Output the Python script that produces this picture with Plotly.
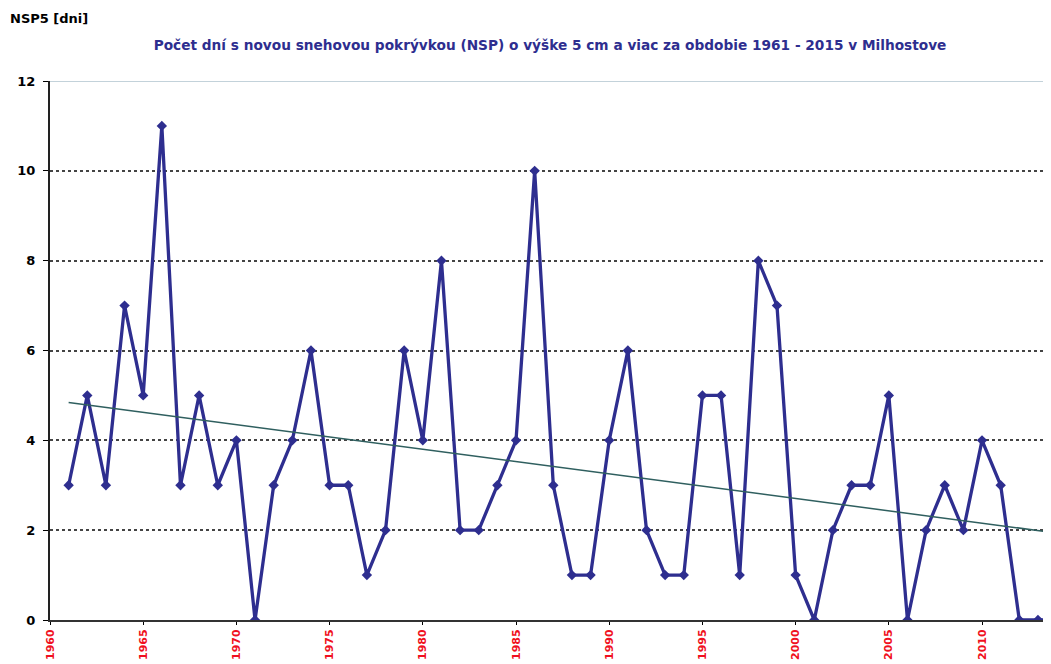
import numpy as np
import plotly.graph_objects as go

years = list(range(1961, 2015))
nsp5 = [3, 5, 3, 7, 5, 11, 3, 5, 3, 4,
        0, 3, 4, 6, 3, 3, 1, 2, 6, 4,
        8, 2, 2, 3, 4, 10, 3, 1, 1, 4,
        6, 2, 1, 1, 5, 5, 1, 8, 7, 1,
        0, 2, 3, 3, 5, 0, 2, 3, 2, 4,
        3, 0, 0, 0]

x_range = [1960, 2013.7]
y_ticks = [0, 2, 4, 6, 8, 10, 12]

# linear trend like the Excel trendline
slope, icpt = np.polyfit(years, nsp5, 1)
trend_x = [years[0], x_range[1]]
trend_y = [slope * v + icpt for v in trend_x]

FONT = 'DejaVu Sans'

fig = go.Figure()

fig.add_trace(go.Scatter(x=years, y=nsp5, mode='lines+markers',
                         line=dict(color='#2E2E8F', width=3.3),
                         marker=dict(symbol='diamond', size=8, color='#2E2E8F'),
                         cliponaxis=True, name='NSP5'))

fig.add_trace(go.Scatter(x=trend_x, y=trend_y, mode='lines',
                         line=dict(color='#2F5F5F', width=1.5),
                         name='Trend'))

# light top border at 12
fig.add_shape(type='line', xref='paper', x0=0, x1=1, yref='y', y0=12, y1=12,
              line=dict(color='#C3D2DA', width=2), layer='below')

# page body has an 8px margin, so the figure is a bit smaller than the window
fig.update_layout(
    width=1043, height=656,
    margin=dict(l=42, r=0, t=73, b=44),
    paper_bgcolor='white', plot_bgcolor='white',
    showlegend=False,
    font=dict(family=FONT, color='black'),
    title=dict(text='Počet dní s novou snehovou pokrývkou (NSP) o výške 5 cm a viac za obdobie 1961 - 2015 v Milhostove',
               x=542 / 1043, xanchor='center', y=1 - 37 / 656, yanchor='middle',
               font=dict(size=13.7, color='#2E2E8F', weight='bold')),
    annotations=[dict(text='NSP5 [dni]', xref='paper', yref='paper',
                      x=-42 / 1001, xanchor='left', y=1 + 63 / 539, yanchor='middle',
                      showarrow=False, font=dict(size=13, color='black', weight='bold'))],
)

fig.update_xaxes(range=x_range, dtick=5, tick0=1960, showgrid=False,
                 showline=True, linecolor='#333333', linewidth=2,
                 ticks='outside', ticklen=3, tickcolor='black',
                 tickangle=-90, tickfont=dict(size=11, color='#F01020', weight='bold'),
                 zeroline=False)

fig.update_yaxes(range=[0, 12], tickvals=y_ticks, showgrid=True,
                 gridcolor='#444444', griddash='dot', gridwidth=1.5,
                 showline=True, linecolor='#222222', linewidth=2,
                 ticks='outside', ticklen=5, tickcolor='black',
                 ticklabelstandoff=5,
                 tickfont=dict(size=13, color='black', weight='bold'),
                 zeroline=False)

fig.write_html("out.html")
